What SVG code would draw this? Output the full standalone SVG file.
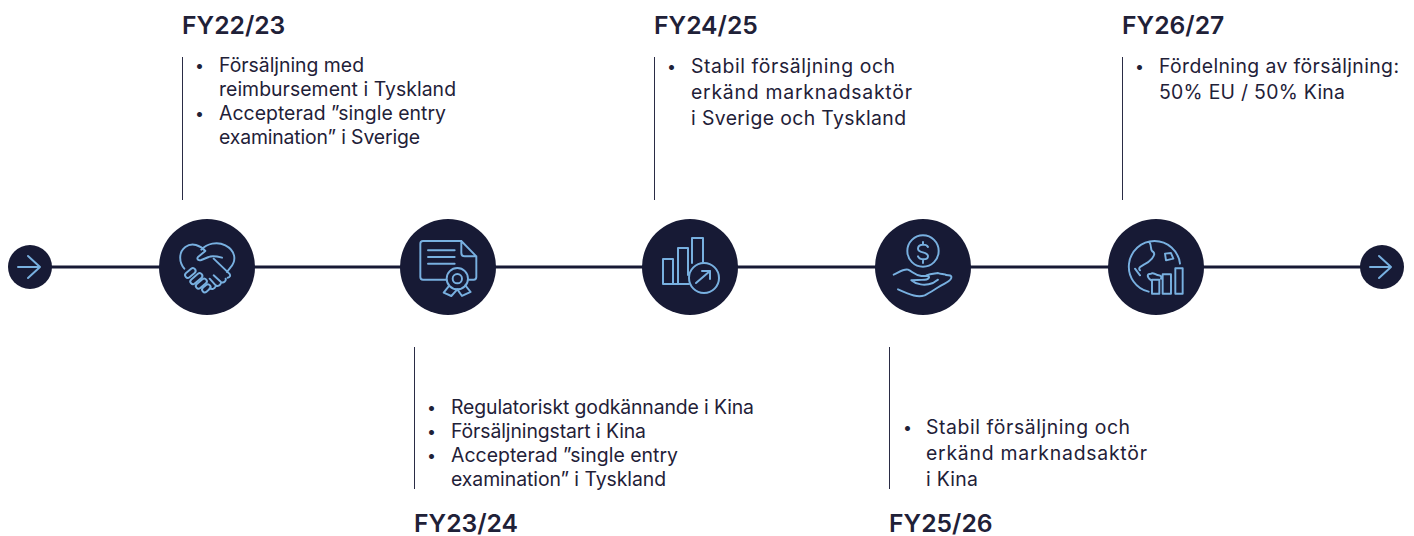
<svg xmlns="http://www.w3.org/2000/svg" width="1414" height="536" viewBox="0 0 1414 536">
<style>
text{font-family:"Inter","Liberation Sans",sans-serif;fill:#1f2138}
.h{font-size:24.700px;font-weight:600}
.b{font-size:19.400px;font-weight:400}
.d{font-size:16px}
.v{stroke:#2a2c45;stroke-width:1;fill:none}
.c{fill:#171a35}
.i{fill:none;stroke:#78b0e0;stroke-width:2;stroke-linecap:round;stroke-linejoin:round}
.z{fill:none;stroke:#78b0e0;stroke-width:5.800;stroke-linecap:round;stroke-linejoin:round}
.l{stroke:#171a35;stroke-width:3;fill:none}
</style>
<rect width="1414" height="536" fill="#fff"/>
<g id="connectors">
<line class="l" x1="30" y1="267" x2="1382" y2="267"/>
<line class="v" x1="182.500" y1="57" x2="182.500" y2="200"/>
<line class="v" x1="654.500" y1="57" x2="654.500" y2="200"/>
<line class="v" x1="1122.500" y1="57" x2="1122.500" y2="200"/>
<line class="v" x1="414.500" y1="347" x2="414.500" y2="489"/>
<line class="v" x1="889.500" y1="347" x2="889.500" y2="489"/>
</g>
<g id="start"><circle class="c" cx="30" cy="267" r="22"/><path class="i" d="M18 267H40M28 256L40 267L28 278"/></g>
<g id="end"><circle class="c" cx="1382" cy="267" r="22"/><path class="i" d="M1370 267H1391M1379 256L1391 267L1379 278"/></g>
<g id="n1">
<circle class="c" cx="207" cy="267" r="48"/>
<g transform="translate(167 227) scale(.3333)">
<path class="z" d="M52 125C35 105 35 75 55 60C75 45 100 55 115 72M115 72L93 90C88 97 95 102 103 99L125 90C135 85 150 88 165 92M103 68C120 50 150 42 175 55C205 70 210 100 190 122L180 135M140 95L187 140C192 146 188 152 182 152M176 155C178 162 170 170 162 165L140 145M162 168C160 175 152 180 146 175L128 155M146 178C142 186 135 188 128 184"/>
<rect class="z" x="-18" y="-8" width="36" height="16" rx="8" transform="translate(70 138) rotate(-40)"/>
<rect class="z" x="-21" y="-8" width="42" height="16" rx="8" transform="translate(88 155) rotate(-40)"/>
<rect class="z" x="-19" y="-8" width="38" height="16" rx="8" transform="translate(103 170) rotate(-40)"/>
<rect class="z" x="-14" y="-8" width="28" height="16" rx="8" transform="translate(118 184) rotate(-40)"/>
</g>
</g>
<g id="n2">
<circle class="c" cx="448" cy="267" r="48"/>
<g transform="translate(408 227) scale(.3333)">
<path class="z" d="M160 42H45Q37 42 37 50V150Q37 158 45 158H115M160 42L205 88V150Q205 158 197 158H183M160 42V78Q160 88 170 88H205M60 70H140M60 90H140M60 110H140"/>
<circle class="z" cx="148" cy="155" r="32"/><circle class="z" cx="148" cy="155" r="14"/>
<path class="z" d="M122 178L107 197L130 207L148 187L162 207L188 195L172 175"/>
</g>
</g>
<g id="n3">
<circle class="c" cx="690" cy="267" r="48"/>
<path class="i" d="M663 284V259H673V284M663 284H689M678 284V248H688V275M692 263V238H703V262"/>
<circle class="i" cx="704" cy="278" r="15"/>
<path class="i" d="M696 283L710 271M702 271H710V279"/>
</g>
<g id="n4">
<circle class="c" cx="923" cy="267" r="48"/>
<g transform="translate(883 227) scale(.3333)">
<circle class="z" cx="120" cy="72" r="47"/>
<path class="z" d="M135 60C130 50 105 50 105 65C105 80 135 72 135 88C135 100 110 100 105 88M120 45V53M120 100V108"/>
<path class="z" d="M32 143C45 138 60 125 75 128C90 135 95 145 115 147C125 148 133 146 137 148C142 153 132 158 125 158C110 160 98 158 85 160C98 172 125 178 150 168L165 158M130 145C145 140 155 140 165 138C172 142 180 140 185 142C192 148 200 142 205 148C208 158 195 165 185 170C165 180 145 195 125 205C105 212 85 205 45 187"/>
</g>
</g>
<g id="n5">
<circle class="c" cx="1156" cy="267" r="48"/>
<g transform="translate(1116 227) scale(.3333)">
<path class="z" d="M98 194A77 77 0 1 1 192 110M100 45C110 60 100 70 112 75C122 85 100 105 85 112C75 118 65 122 72 130M57 125L72 145M147 80L165 78L172 95L150 100ZM105 160C92 150 92 140 105 140C112 135 120 145 128 145C135 145 137 150 135 155M108 158H130V200H108ZM140 142H165V200H140ZM178 124H200V200H178Z"/>
</g>
</g>
<g id="fy2223">
<text class="h" x="182" y="34">FY22/23</text>
<text class="d" x="195" y="71">•</text><text class="b" x="219" y="72" textLength="145">Försäljning med</text>
<text class="b" x="219" y="96" textLength="237">reimbursement i Tyskland</text>
<text class="d" x="195" y="119">•</text><text class="b" x="219" y="120" textLength="227">Accepterad ”single entry</text>
<text class="b" x="219" y="144" textLength="201">examination” i Sverige</text>
</g>
<g id="fy2324">
<text class="h" x="414" y="532">FY23/24</text>
<text class="d" x="427" y="413">•</text><text class="b" x="451" y="414" textLength="303">Regulatoriskt godkännande i Kina</text>
<text class="d" x="427" y="437">•</text><text class="b" x="451" y="438" textLength="195">Försäljningstart i Kina</text>
<text class="d" x="427" y="461">•</text><text class="b" x="451" y="462" textLength="227">Accepterad ”single entry</text>
<text class="b" x="451" y="486" textLength="215">examination” i Tyskland</text>
</g>
<g id="fy2425">
<text class="h" x="654" y="34">FY24/25</text>
<text class="d" x="667" y="72">•</text><text class="b" x="691" y="73" textLength="204">Stabil försäljning och</text>
<text class="b" x="691" y="99" textLength="221">erkänd marknadsaktör</text>
<text class="b" x="691" y="125" textLength="215">i Sverige och Tyskland</text>
</g>
<g id="fy2526">
<text class="h" x="889" y="532">FY25/26</text>
<text class="d" x="903" y="433">•</text><text class="b" x="926" y="434" textLength="204">Stabil försäljning och</text>
<text class="b" x="926" y="460" textLength="221">erkänd marknadsaktör</text>
<text class="b" x="926" y="486" textLength="52">i Kina</text>
</g>
<g id="fy2627">
<text class="h" x="1122" y="34">FY26/27</text>
<text class="d" x="1135" y="72">•</text><text class="b" x="1159" y="73" textLength="240">Fördelning av försäljning:</text>
<text class="b" x="1159" y="99" textLength="186">50% EU / 50% Kina</text>
</g>
</svg>
